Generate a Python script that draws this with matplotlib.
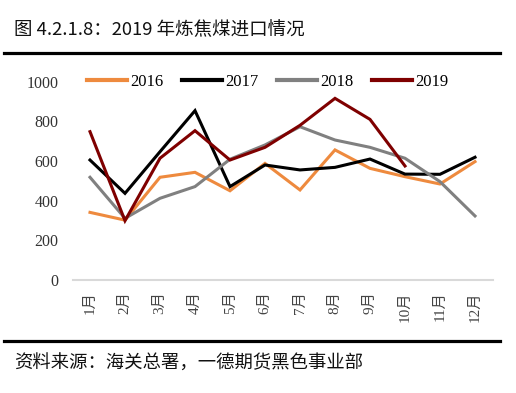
import matplotlib
matplotlib.use("Agg")
import matplotlib.pyplot as plt
from matplotlib.lines import Line2D

months = ["1月", "2月", "3月", "4月", "5月", "6月", "7月", "8月", "9月", "10月", "11月", "12月"]
s2016 = [341, 302, 518, 543, 450, 588, 454, 656, 563, 521, 484, 597]
s2017 = [605, 437, 647, 854, 471, 580, 555, 568, 610, 534, 533, 619]
s2018 = [518, 311, 412, 471, 609, 681, 773, 706, 669, 614, 496, 323]
s2019 = [748, 299, 614, 753, 605, 669, 780, 916, 810, 575]
series = [("2016", s2016, "#EE8A3E"), ("2017", s2017, "#000000"),
          ("2018", s2018, "#808080"), ("2019", s2019, "#7F0000")]
yticks = [0, 200, 400, 600, 800, 1000]

W, H = 516, 393
fig = plt.figure(figsize=(W / 100, H / 100), dpi=100)
serif = ["Liberation Serif", "Noto Sans CJK SC"]
sans = ["Noto Sans CJK SC", "DejaVu Sans"]

ax = fig.add_axes([72.5 / W, 1 - 280 / H, 420 / W, 198.3 / H])
x = list(range(len(months)))
handles = []
for name, vals, col in series:
    ax.plot(x[:len(vals)], vals, color=col, lw=2.2, solid_joinstyle="miter")
    handles.append(Line2D([], [], color=col, lw=3.0, label=name))

ax.set_xlim(-0.5, 11.5)
ax.set_ylim(0, 1000)
for sp in ["top", "right", "left"]:
    ax.spines[sp].set_visible(False)
ax.spines["bottom"].set_color("#D9D9D9")
ax.spines["bottom"].set_linewidth(1.5)
ax.set_yticks(yticks)
ax.set_yticklabels([str(v) for v in yticks], fontfamily=serif, fontsize=11.5, color="#333333")
ax.set_xticks(x)
ax.set_xticklabels(months, rotation=90, fontfamily=serif, fontsize=11, color="#444444")
ax.tick_params(axis="y", length=0, pad=10)
ax.tick_params(axis="x", length=0, pad=8)

leg = fig.legend(handles=handles, ncol=4, loc="center left",
                 bbox_to_anchor=(87 / W, 1 - 82 / H), frameon=False,
                 borderpad=0, borderaxespad=0, handlelength=2.4,
                 handletextpad=0.2, columnspacing=1.1,
                 prop={"family": serif, "size": 12})

fig.text(14 / W, 1 - 30 / H, "图 4.2.1.8：2019 年炼焦煤进口情况", fontfamily=sans,
         fontsize=13.3, va="center", ha="left", color="#111111")
fig.text(14 / W, 1 - 364 / H, "资料来源：海关总署，一德期货黑色事业部", fontfamily=sans,
         fontsize=13.2, va="center", ha="left", color="#111111")
fig.add_artist(Line2D([4 / W, 500 / W], [1 - 52.5 / H, 1 - 52.5 / H], color="black", lw=2.3))
fig.add_artist(Line2D([4 / W, 500 / W], [1 - 340.5 / H, 1 - 340.5 / H], color="black", lw=2.3))

fig.savefig("out.png", dpi=100)
